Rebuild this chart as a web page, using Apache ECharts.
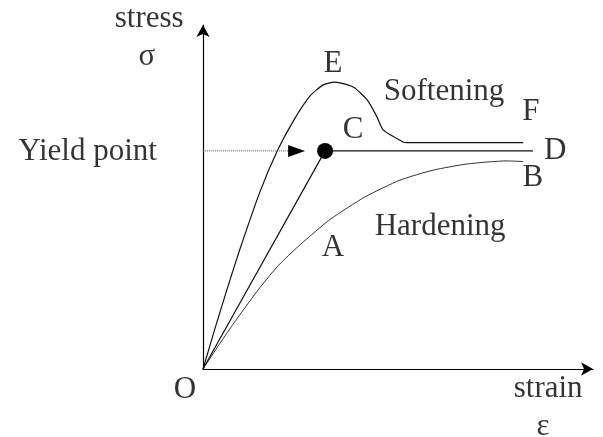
<!DOCTYPE html>
<html>
<head>
<meta charset="utf-8">
<script src="https://cdn.jsdelivr.net/npm/echarts@6/dist/echarts.min.js"></script>
<style>
  html, body { margin: 0; padding: 0; background: #fff; }
  #main { width: 603px; height: 437px; }
</style>
</head>
<body>
<div id="main"></div>
<script>
    // curve O-E-F (softening)
    const strainE = [0, 3.0, 6.2, 9.4, 14.6, 19.0, 23.1, 27.4, 30.8, 33.8, 38.5, 42.1, 44.6, 46.2, 51.3, 52.3, 82.1]
    const stressE = [0, 11.5, 23.3, 34.6, 51.5, 63.3, 72.0, 79.3, 82.6, 83.4, 82.0, 78.2, 73.3, 69.5, 66.0, 65.8, 65.8]

    // curve O-A-B (hardening)
    const strainB = [0, 3.6, 7.7, 13.8, 19.0, 23.6, 27.4, 32.6, 41.5, 50.5, 59.0, 67.7, 77.9, 82.1]
    const stressB = [0, 6.2, 13.0, 22.5, 29.7, 34.8, 38.6, 43.5, 50.0, 54.9, 57.8, 59.6, 60.5, 60.3]

    // O-C-D (perfectly plastic)
    const strainC = [0, 31.3, 84.6]
    const stressC = [0, 63.4, 63.4]
    const yieldPoint = [31.3, 63.4]

    // dotted pointer from the "Yield point" text
    const strainArrow = [-9.7, 24.0]
    const stressArrow = [63.4, 63.4]

    // text labels
    const labelNames = ['stress', 'σ', 'Yield point', 'O', 'strain', 'ε', 'E', 'Softening', 'F', 'C', 'D', 'B', 'Hardening', 'A']
    const labelX = [-13.8, -14.4, -29.6, -4.6, 88.5, 87.2, 33.3, 61.8, 84.1, 38.5, 90.3, 84.6, 60.8, 33.3]
    const labelY = [101.7, 90.7, 63.1, -6.1, -5.8, -16.9, 88.7, 80.5, 74.7, 69.5, 63.4, 55.5, 41.3, 35.2]

    function pairs(xs, ys) {
        let out = []
        for (let i = 0; i < xs.length; i++) {
            out[i] = [xs[i], ys[i]]
        }
        return out
    }

    const arrowData = pairs(strainArrow, stressArrow)
    arrowData[1] = {
        value: arrowData[1],
        symbol: 'triangle',
        symbolSize: [12, 17],
        symbolRotate: -90
    }

    let labelData = []
    for (let i = 0; i < labelNames.length; i++) {
        labelData.push({name: labelNames[i], value: [labelX[i], labelY[i]]})
    }

    const axisCommon = {
        type: 'value',
        min: 0,
        max: 100,
        axisLine: {
            show: true,
            onZero: false,
            symbol: ['none', 'arrow'],
            symbolSize: [10, 12],
            lineStyle: {color: '#000', width: 1.2}
        },
        axisTick: {show: false},
        axisLabel: {show: false},
        splitLine: {show: false}
    }

    const myCharts = echarts.init(document.getElementById('main'))
    const option = {
        animation: false,
        backgroundColor: '#fff',
        grid: {left: 203, right: 10, top: 25, bottom: 68},
        xAxis: axisCommon,
        yAxis: axisCommon,
        series: [
            {
                type: 'line',
                data: pairs(strainE, stressE),
                symbol: 'none',
                smooth: 0.2,
                lineStyle: {color: '#111', width: 1.2}
            },
            {
                type: 'line',
                data: pairs(strainB, stressB),
                symbol: 'none',
                smooth: 0.2,
                lineStyle: {color: '#333', width: 1}
            },
            {
                type: 'line',
                data: pairs(strainC, stressC),
                symbol: 'none',
                lineStyle: {color: '#111', width: 1.2}
            },
            {
                type: 'line',
                data: arrowData,
                symbol: 'none',
                clip: false,
                itemStyle: {color: '#000'},
                lineStyle: {color: '#555', width: 1, type: 'dotted'}
            },
            {
                type: 'scatter',
                data: [yieldPoint],
                symbolSize: 16,
                itemStyle: {color: '#000', opacity: 1}
            },
            {
                type: 'scatter',
                data: labelData,
                symbolSize: 0,
                clip: false,
                label: {
                    show: true,
                    position: 'inside',
                    formatter: '{b}',
                    color: '#000',
                    fontFamily: 'Liberation Serif',
                    fontSize: 31
                }
            }
        ]
    }
    myCharts.setOption(option)
</script>
</body>
</html>
